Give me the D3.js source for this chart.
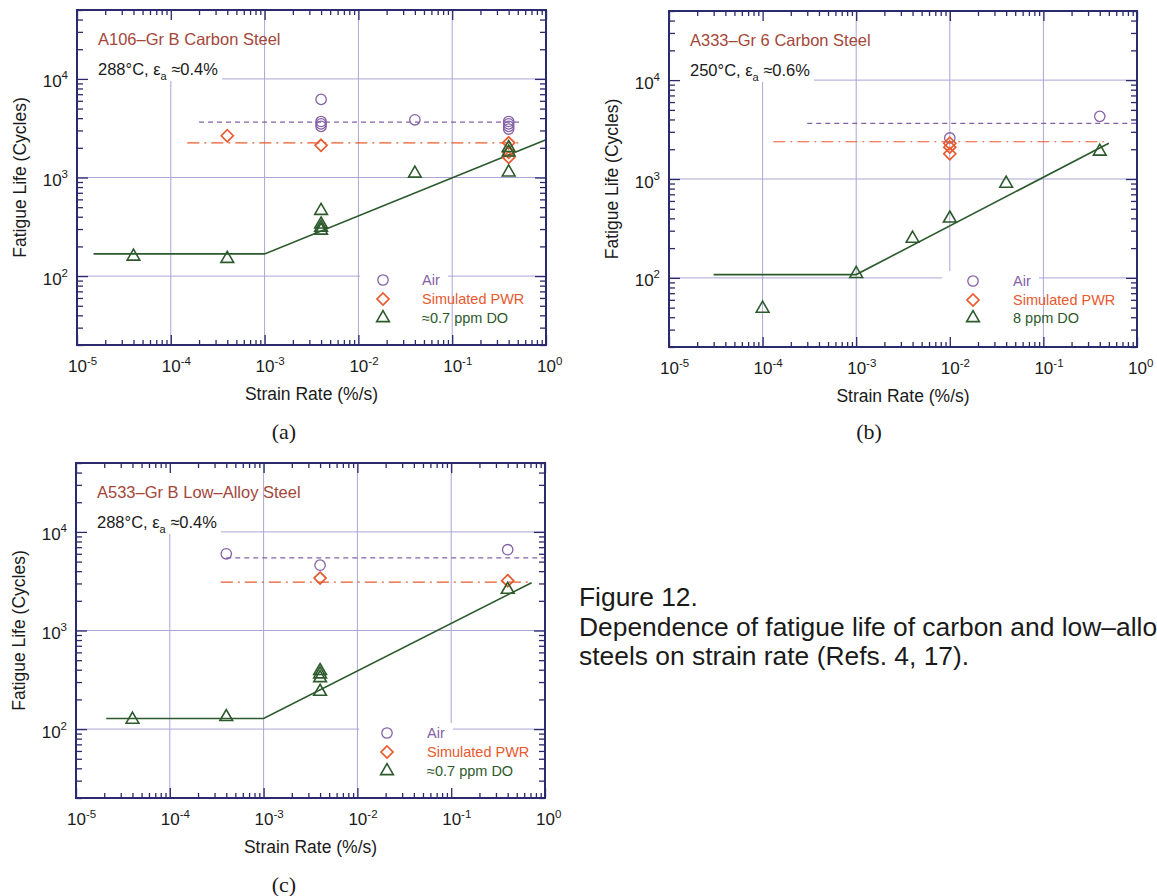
<!DOCTYPE html>
<html><head><meta charset="utf-8">
<script src="https://cdn.jsdelivr.net/npm/d3@7"></script>
<style>
body{margin:0;background:#fff;}
svg{display:block;font-family:"Liberation Sans",Arial,sans-serif;}
</style></head>
<body>
<svg id="chart" width="1157" height="896"></svg>
<script>
// ---------- shared axis values ----------
const xDomain = [1e-5, 1];
const yDomain = [20, 50000];
const xMajorTicks = [1e-5, 1e-4, 1e-3, 1e-2, 1e-1, 1];
const xTickExponents = ["-5", "-4", "-3", "-2", "-1", "0"];
const yMajorTicks = [1e2, 1e3, 1e4];
const yTickExponents = ["2", "3", "4"];
const xGridValues = [1e-4, 1e-3, 1e-2, 1e-1];
const yGridValues = [1e2, 1e3, 1e4];
const xAxisTitle = "Strain Rate (%/s)";
const yAxisTitle = "Fatigue Life (Cycles)";

// ---------- panel (a) A106-Gr B ----------
const titleA = "A106–Gr B Carbon Steel";
const condA = ["288°C, ε", "a", " ≈0.4%"];
const legendA = ["Air", "Simulated PWR", "≈0.7 ppm DO"];
const airRateA = [0.004, 0.004, 0.004, 0.004, 0.04, 0.4, 0.4, 0.4, 0.4];
const airLifeA = [6200, 3700, 3500, 3300, 3850, 3700, 3500, 3300, 3100];
const pwrRateA = [0.0004, 0.004, 0.4, 0.4, 0.4];
const pwrLifeA = [2650, 2120, 2250, 1800, 1600];
const doRateA = [0.00004, 0.0004, 0.004, 0.004, 0.004, 0.004, 0.04, 0.4, 0.4, 0.4];
const doLifeA = [158, 150, 460, 335, 310, 290, 1100, 2000, 1800, 1130];
const airMeanRateA = [2e-4, 0.55];
const airMeanLifeA = [3650, 3650];
const pwrMeanRateA = [1.5e-4, 0.53];
const pwrMeanLifeA = [2250, 2250];
const trendRateA = [1.5e-5, 1e-3, 1];
const trendLifeA = [168, 168, 2420];

// ---------- panel (b) A333-Gr 6 ----------
const titleB = "A333–Gr 6 Carbon Steel";
const condB = ["250°C, ε", "a", " ≈0.6%"];
const legendB = ["Air", "Simulated PWR", "8 ppm DO"];
const airRateB = [0.01, 0.4];
const airLifeB = [2600, 4300];
const pwrRateB = [0.01, 0.01, 0.01];
const pwrLifeB = [2300, 2100, 1800];
const doRateB = [1e-4, 1e-3, 0.004, 0.01, 0.04, 0.4];
const doLifeB = [49, 110, 250, 400, 900, 1900];
const airMeanRateB = [3e-4, 1];
const airMeanLifeB = [3650, 3650];
const pwrMeanRateB = [1.3e-4, 0.45];
const pwrMeanLifeB = [2380, 2380];
const trendRateB = [3e-5, 1e-3, 0.5];
const trendLifeB = [108, 108, 2300];

// ---------- panel (c) A533-Gr B ----------
const titleC = "A533–Gr B Low–Alloy Steel";
const condC = ["288°C, ε", "a", " ≈0.4%"];
const legendC = ["Air", "Simulated PWR", "≈0.7 ppm DO"];
const airRateC = [0.0004, 0.004, 0.4];
const airLifeC = [6000, 4600, 6600];
const pwrRateC = [0.004, 0.4];
const pwrLifeC = [3400, 3200];
const doRateC = [0.00004, 0.0004, 0.004, 0.004, 0.004, 0.004, 0.4];
const doLifeC = [125, 133, 390, 360, 330, 240, 2600];
const airMeanRateC = [4e-4, 1];
const airMeanLifeC = [5450, 5450];
const pwrMeanRateC = [3.5e-4, 0.74];
const pwrMeanLifeC = [3100, 3100];
const trendRateC = [2.1e-5, 1e-3, 0.72];
const trendLifeC = [128, 128, 3050];

const panelLabels = ["(a)", "(b)", "(c)"];
const captionLines = ["Figure 12.", "Dependence of fatigue life of carbon and low–alloy", "steels on strain rate (Refs. 4, 17)."];

// ---------- styles ----------
const FRAME = "#2b2a6c";
const GRID = "#a9a6d6";
const C_AIR = "#8561a6";
const C_PWR = "#e8592e";
const C_DO = "#2c5a2c";
const C_TITLE = "#a3473a";

const svg = d3.select("#chart");

const diamondType = {
  draw(ctx, size) {
    const r = Math.sqrt(size / 2);
    ctx.moveTo(0, -r); ctx.lineTo(r, 0); ctx.lineTo(0, r); ctx.lineTo(-r, 0); ctx.closePath();
  }
};
const symCircle = d3.symbol().type(d3.symbolCircle).size(Math.PI * 5.2 * 5.2);
const symDiamond = d3.symbol().type(diamondType).size(72);
const symTriangle = d3.symbol().type(d3.symbolTriangle).size(70);

function zip(a, b) { return a.map((v, i) => [v, b[i]]); }

function drawPanel(p) {
  const g = svg.append("g");
  const x = d3.scaleLog().domain(xDomain).range([p.x0, p.x1]);
  const y = d3.scaleLog().domain(yDomain).range([p.y1, p.y0]);

  // grid
  g.append("g").selectAll("line").data(xGridValues).join("line")
    .attr("x1", d => x(d)).attr("x2", d => x(d))
    .attr("y1", p.y0).attr("y2", p.y1)
    .attr("stroke", GRID).attr("stroke-width", 1);
  g.append("g").selectAll("line").data(yGridValues).join("line")
    .attr("y1", d => y(d)).attr("y2", d => y(d))
    .attr("x1", p.x0).attr("x2", p.x1)
    .attr("stroke", GRID).attr("stroke-width", 1);

  // white boxes behind annotation and legend
  g.append("rect").attr("x", p.x0 + 1).attr("y", p.y0 + 1)
    .attr("width", p.annoW).attr("height", p.annoH).attr("fill", "#fff");
  g.append("rect").attr("x", p.legBoxX).attr("y", p.legY[0] - 10)
    .attr("width", p.legTextX + 26 - p.legBoxX).attr("height", p.y1 - 1 - (p.legY[0] - 10))
    .attr("fill", "#fff");

  const line = d3.line().x(d => x(d[0])).y(d => y(d[1]));
  // mean lines
  g.append("path").datum(zip(p.airMeanRate, p.airMeanLife)).attr("d", line)
    .attr("fill", "none").attr("stroke", C_AIR).attr("stroke-width", 1.2)
    .attr("stroke-dasharray", "5,4");
  g.append("path").datum(zip(p.pwrMeanRate, p.pwrMeanLife)).attr("d", line)
    .attr("fill", "none").attr("stroke", C_PWR).attr("stroke-width", 1.2)
    .attr("stroke-dasharray", "12,5,2,5");
  // trend
  g.append("path").datum(zip(p.trendRate, p.trendLife)).attr("d", line)
    .attr("fill", "none").attr("stroke", C_DO).attr("stroke-width", 1.6);

  // markers
  g.append("g").selectAll("path").data(zip(p.airRate, p.airLife)).join("path")
    .attr("d", symCircle).attr("transform", d => `translate(${x(d[0])},${y(d[1])})`)
    .attr("fill", "none").attr("stroke", C_AIR).attr("stroke-width", 1.3);
  g.append("g").selectAll("path").data(zip(p.pwrRate, p.pwrLife)).join("path")
    .attr("d", symDiamond).attr("transform", d => `translate(${x(d[0])},${y(d[1])})`)
    .attr("fill", "none").attr("stroke", C_PWR).attr("stroke-width", 1.7);
  g.append("g").selectAll("path").data(zip(p.doRate, p.doLife)).join("path")
    .attr("d", symTriangle).attr("transform", d => `translate(${x(d[0])},${y(d[1])})`)
    .attr("fill", "none").attr("stroke", C_DO).attr("stroke-width", 1.6);

  // frame
  g.append("rect").attr("x", p.x0).attr("y", p.y0)
    .attr("width", p.x1 - p.x0).attr("height", p.y1 - p.y0)
    .attr("fill", "none").attr("stroke", FRAME).attr("stroke-width", 2);

  // minor tick values from the scales
  const xMinor = x.ticks().filter(v => !xMajorTicks.some(m => Math.abs(m - v) / m < 1e-9));
  const yMinor = y.ticks().filter(v => !yMajorTicks.some(m => Math.abs(m - v) / m < 1e-9));

  function styleAxis(sel) {
    sel.select(".domain").remove();
    sel.selectAll(".tick line").attr("stroke", FRAME).attr("stroke-width", 1.3);
  }
  const fmtNone = () => "";
  // bottom
  g.append("g").attr("transform", `translate(0,${p.y1})`)
    .call(d3.axisBottom(x).tickValues(xMinor).tickSize(-5).tickFormat(fmtNone)).call(styleAxis)
    .selectAll("text").remove();
  const bx = g.append("g").attr("transform", `translate(0,${p.y1})`)
    .call(d3.axisBottom(x).tickValues(xMajorTicks).tickSize(-10).tickPadding(20).tickFormat(fmtNone)).call(styleAxis);
  bx.selectAll(".tick text").each(function(d, i) {
    const t = d3.select(this);
    t.attr("text-anchor", "start").attr("x", -9.5).attr("dy", null).attr("y", 27)
      .attr("fill", "#1a1a1a").attr("font-size", 17).attr("font-family", "Liberation Sans, Arial, sans-serif");
    t.append("tspan").text("10");
    t.append("tspan").attr("font-size", 11.5).attr("dy", -7).text(xTickExponents[i]);
  });
  // top
  g.append("g").attr("transform", `translate(0,${p.y0})`)
    .call(d3.axisTop(x).tickValues(xMinor).tickSize(-5).tickFormat(fmtNone)).call(styleAxis)
    .selectAll("text").remove();
  g.append("g").attr("transform", `translate(0,${p.y0})`)
    .call(d3.axisTop(x).tickValues(xMajorTicks).tickSize(-10).tickFormat(fmtNone)).call(styleAxis)
    .selectAll("text").remove();
  // left
  g.append("g").attr("transform", `translate(${p.x0},0)`)
    .call(d3.axisLeft(y).tickValues(yMinor).tickSize(-6).tickFormat(fmtNone)).call(styleAxis)
    .selectAll("text").remove();
  const ly = g.append("g").attr("transform", `translate(${p.x0},0)`)
    .call(d3.axisLeft(y).tickValues(yMajorTicks).tickSize(-11).tickPadding(9).tickFormat(fmtNone)).call(styleAxis);
  ly.selectAll(".tick text").each(function(d, i) {
    const t = d3.select(this);
    t.attr("text-anchor", "end").attr("dy", null).attr("y", 8)
      .attr("fill", "#1a1a1a").attr("font-size", 17).attr("font-family", "Liberation Sans, Arial, sans-serif");
    t.append("tspan").text("10");
    t.append("tspan").attr("font-size", 11.5).attr("dy", -8).text(yTickExponents[i]);
  });
  // right
  g.append("g").attr("transform", `translate(${p.x1},0)`)
    .call(d3.axisRight(y).tickValues(yMinor).tickSize(-6).tickFormat(fmtNone)).call(styleAxis)
    .selectAll("text").remove();
  g.append("g").attr("transform", `translate(${p.x1},0)`)
    .call(d3.axisRight(y).tickValues(yMajorTicks).tickSize(-11).tickFormat(fmtNone)).call(styleAxis)
    .selectAll("text").remove();

  // axis titles
  g.append("text").attr("x", (p.x0 + p.x1) / 2).attr("y", p.y1 + 55)
    .attr("text-anchor", "middle").attr("font-size", 17.5).attr("fill", "#1a1a1a").text(xAxisTitle);
  g.append("text").attr("transform", `translate(${p.x0 - 51},${(p.y0 + p.y1) / 2}) rotate(-90)`)
    .attr("text-anchor", "middle").attr("font-size", 17.5).attr("fill", "#1a1a1a").text(yAxisTitle);

  // annotation
  g.append("text").attr("x", p.x0 + 21).attr("y", p.y0 + 35)
    .attr("font-size", 16.5).attr("fill", C_TITLE).text(p.title);
  const ct = g.append("text").attr("x", p.x0 + 21).attr("y", p.y0 + 65)
    .attr("font-size", 16.5).attr("fill", "#1a1a1a");
  ct.append("tspan").text(p.cond[0]);
  ct.append("tspan").attr("font-size", 11).attr("dy", 5).text(p.cond[1]);
  ct.append("tspan").attr("dy", -5).text(p.cond[2]);

  // legend
  const legSyms = [symCircle, symDiamond, symTriangle];
  const legCols = [C_AIR, C_PWR, C_DO];
  const legW = [1.3, 1.7, 1.6];
  p.legend.forEach((lab, i) => {
    g.append("path").attr("d", legSyms[i])
      .attr("transform", `translate(${p.legMarkX},${p.legY[i]})`)
      .attr("fill", "none").attr("stroke", legCols[i]).attr("stroke-width", legW[i]);
    g.append("text").attr("x", p.legTextX).attr("y", p.legY[i] + 5)
      .attr("font-size", 14.5).attr("fill", legCols[i]).text(lab);
  });

  // panel label
  svg.append("text").attr("x", p.labelX).attr("y", p.labelY)
    .attr("text-anchor", "middle").attr("font-family", "Liberation Serif, Times New Roman, serif")
    .attr("font-size", 22).attr("fill", "#1a1a1a").text(p.label);
}

drawPanel({
  x0: 77, x1: 546, y0: 10, y1: 345, annoW: 144, annoH: 70,
  legBoxX: 360, legMarkX: 383, legTextX: 422, legY: [280, 299, 318],
  title: titleA, cond: condA, legend: legendA,
  airRate: airRateA, airLife: airLifeA, pwrRate: pwrRateA, pwrLife: pwrLifeA,
  doRate: doRateA, doLife: doLifeA,
  airMeanRate: airMeanRateA, airMeanLife: airMeanLifeA,
  pwrMeanRate: pwrMeanRateA, pwrMeanLife: pwrMeanLifeA,
  trendRate: trendRateA, trendLife: trendLifeA,
  label: panelLabels[0], labelX: 284, labelY: 439
});
drawPanel({
  x0: 669, x1: 1137, y0: 11, y1: 347, annoW: 144, annoH: 70,
  legBoxX: 942, legMarkX: 973, legTextX: 1013, legY: [281, 300, 318],
  title: titleB, cond: condB, legend: legendB,
  airRate: airRateB, airLife: airLifeB, pwrRate: pwrRateB, pwrLife: pwrLifeB,
  doRate: doRateB, doLife: doLifeB,
  airMeanRate: airMeanRateB, airMeanLife: airMeanLifeB,
  pwrMeanRate: pwrMeanRateB, pwrMeanLife: pwrMeanLifeB,
  trendRate: trendRateB, trendLife: trendLifeB,
  label: panelLabels[1], labelX: 869, labelY: 439
});
drawPanel({
  x0: 76, x1: 545, y0: 463, y1: 798, annoW: 144, annoH: 70,
  legBoxX: 359, legMarkX: 387, legTextX: 427, legY: [733, 752, 771],
  title: titleC, cond: condC, legend: legendC,
  airRate: airRateC, airLife: airLifeC, pwrRate: pwrRateC, pwrLife: pwrLifeC,
  doRate: doRateC, doLife: doLifeC,
  airMeanRate: airMeanRateC, airMeanLife: airMeanLifeC,
  pwrMeanRate: pwrMeanRateC, pwrMeanLife: pwrMeanLifeC,
  trendRate: trendRateC, trendLife: trendLifeC,
  label: panelLabels[2], labelX: 284, labelY: 892
});

// caption
svg.append("g").selectAll("text").data(captionLines).join("text")
  .attr("x", 579).attr("y", (d, i) => 606 + i * 29.5)
  .attr("font-size", 26.4).attr("fill", "#1a1a1a").text(d => d);
</script>
</body></html>
